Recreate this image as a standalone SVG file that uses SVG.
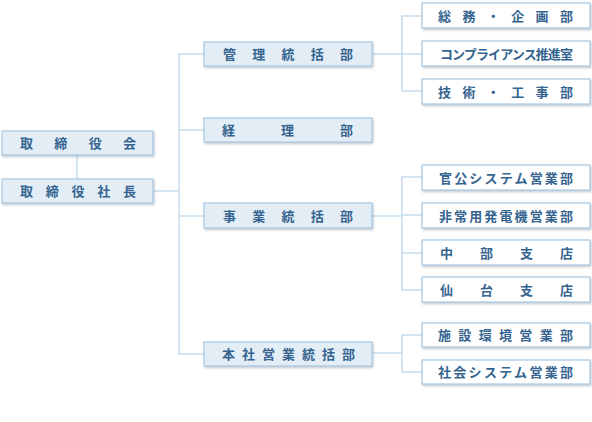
<svg xmlns="http://www.w3.org/2000/svg" width="592" height="422" viewBox="0 0 592 422">
<defs>
<filter id="sh" x="-5%" y="-20%" width="110%" height="150%">
<feDropShadow dx="1" dy="1.5" stdDeviation="0.8" flood-color="#7f8c99" flood-opacity="0.45"/>
</filter>
</defs>
<style>
.b1{fill:#e3edf6;stroke:#a9c8e2;stroke-width:1.2;filter:url(#sh)}
.b2{fill:#ffffff;stroke:#a9c8e2;stroke-width:1.2;filter:url(#sh)}
.t{font-family:"Noto Sans CJK JP","Noto Sans",sans-serif;font-size:13px;font-weight:bold;fill:#34648f}
.c{fill:none;stroke:#c6dcee;stroke-width:1.5}
</style>
<rect width="592" height="422" fill="#ffffff"/>
<g id="connectors">
<line class="c" x1="77" y1="155" x2="77" y2="179"/>
<line class="c" x1="153" y1="191" x2="179" y2="191"/>
<polyline class="c" points="204,54 179,54 179,354 204,354"/>
<line class="c" x1="179" y1="130" x2="204" y2="130"/>
<line class="c" x1="179" y1="216" x2="204" y2="216"/>
<line class="c" x1="372" y1="54" x2="422" y2="54"/>
<polyline class="c" points="422,16 402,16 402,91 422,91"/>
<line class="c" x1="372" y1="216" x2="402" y2="216"/>
<polyline class="c" points="422,177 402,177 402,290 422,290"/>
<line class="c" x1="402" y1="215" x2="422" y2="215"/>
<line class="c" x1="402" y1="253" x2="422" y2="253"/>
<line class="c" x1="372" y1="353" x2="402" y2="353"/>
<polyline class="c" points="422,335 402,335 402,372 422,372"/>
</g>
<g id="n-board"><rect class="b1" x="2" y="131" width="151" height="24"/><text class="t" x="20" y="148" textLength="116" lengthAdjust="spacing">取締役会</text></g>
<g id="n-president"><rect class="b1" x="2" y="179" width="151" height="24"/><text class="t" x="20" y="196" textLength="116" lengthAdjust="spacing">取締役社長</text></g>
<g id="n-kanri"><rect class="b1" x="204" y="42" width="168" height="24"/><text class="t" x="223" y="59" textLength="130" lengthAdjust="spacing">管理統括部</text></g>
<g id="n-keiri"><rect class="b1" x="204" y="118" width="168" height="24"/><text class="t" x="222" y="135" textLength="131" lengthAdjust="spacing">経理部</text></g>
<g id="n-jigyo"><rect class="b1" x="204" y="203" width="168" height="25"/><text class="t" x="223" y="221" textLength="130" lengthAdjust="spacing">事業統括部</text></g>
<g id="n-honsha"><rect class="b1" x="204" y="342" width="168" height="24"/><text class="t" x="222" y="359" textLength="133" lengthAdjust="spacing">本社営業統括部</text></g>
<g id="n-somu"><rect class="b2" x="422" y="3" width="168" height="25"/><text class="t" x="438" y="21" textLength="135" lengthAdjust="spacing">総務・企画部</text></g>
<g id="n-comp"><rect class="b2" x="422" y="41" width="168" height="25"/><text class="t" x="440" y="59" textLength="133" lengthAdjust="spacing">コンプライアンス推進室</text></g>
<g id="n-gijutsu"><rect class="b2" x="422" y="79" width="168" height="25"/><text class="t" x="438" y="97" textLength="135" lengthAdjust="spacing">技術・工事部</text></g>
<g id="n-kanko"><rect class="b2" x="422" y="165" width="168" height="25"/><text class="t" x="439" y="183" textLength="134" lengthAdjust="spacing">官公システム営業部</text></g>
<g id="n-hijo"><rect class="b2" x="422" y="203" width="168" height="25"/><text class="t" x="439" y="221" textLength="134" lengthAdjust="spacing">非常用発電機営業部</text></g>
<g id="n-chubu"><rect class="b2" x="422" y="240" width="168" height="25"/><text class="t" x="440" y="258" textLength="133" lengthAdjust="spacing">中部支店</text></g>
<g id="n-sendai"><rect class="b2" x="422" y="277" width="168" height="25"/><text class="t" x="440" y="295" textLength="133" lengthAdjust="spacing">仙台支店</text></g>
<g id="n-shisetsu"><rect class="b2" x="422" y="323" width="168" height="24"/><text class="t" x="438" y="340" textLength="135" lengthAdjust="spacing">施設環境営業部</text></g>
<g id="n-shakai"><rect class="b2" x="422" y="360" width="168" height="24"/><text class="t" x="438" y="377" textLength="135" lengthAdjust="spacing">社会システム営業部</text></g>
</svg>
